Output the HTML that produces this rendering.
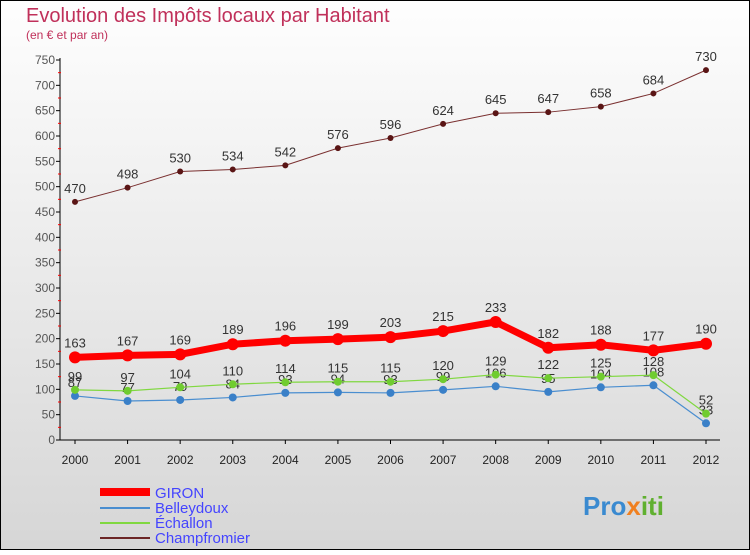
<!DOCTYPE html>
<html><head><meta charset="utf-8"><style>
body{margin:0;width:750px;height:550px;overflow:hidden;font-family:"Liberation Sans",sans-serif}
</style></head><body>
<svg width="750" height="550" xmlns="http://www.w3.org/2000/svg">
<defs><linearGradient id="bg" x1="0" y1="0" x2="0" y2="1"><stop offset="0" stop-color="#fefefe"/><stop offset="1" stop-color="#d6d6d6"/></linearGradient></defs>
<rect x="0.5" y="0.5" width="749" height="549" fill="url(#bg)" stroke="#000"/>
<text x="26" y="22" font-size="20" fill="#c0305a">Evolution des Impôts locaux par Habitant</text>
<text x="26" y="39" font-size="12" fill="#c0305a">(en € et par an)</text>
<g id="axes"></g><g id="series"></g>
<g>
<line x1="100" y1="492" x2="150" y2="492" stroke="#f00" stroke-width="8"/>
<text x="155" y="498" font-size="15" fill="#4444ff">GIRON</text>
<line x1="100" y1="508" x2="150" y2="508" stroke="#4a8ed0" stroke-width="2"/>
<text x="155" y="513" font-size="15" fill="#4444ff">Belleydoux</text>
<line x1="100" y1="523" x2="150" y2="523" stroke="#80d840" stroke-width="2"/>
<text x="155" y="528" font-size="15" fill="#4444ff">Échallon</text>
<line x1="100" y1="538" x2="150" y2="538" stroke="#6b2525" stroke-width="2"/>
<text x="155" y="543" font-size="15" fill="#4444ff">Champfromier</text>
</g>
<text x="583" y="515" font-size="26" font-weight="bold" fill="#3a8ad0">Pro<tspan fill="#f08020">x</tspan><tspan fill="#60b030">iti</tspan></text>
</svg>
<script>
const years=[2000,2001,2002,2003,2004,2005,2006,2007,2008,2009,2010,2011,2012];
const giron=[163,167,169,189,196,199,203,215,233,182,188,177,190];
const belleydoux=[87,77,79,84,93,94,93,99,106,95,104,108,33];
const echallon=[99,97,104,110,114,115,115,120,129,122,125,128,52];
const champfromier=[470,498,530,534,542,576,596,624,645,647,658,684,730];
const yTicks=[0,50,100,150,200,250,300,350,400,450,500,550,600,650,700,750];
const NS="http://www.w3.org/2000/svg";
const X=i=>75+i*(706-75)/12, Y=v=>440-v*380/750;
function mk(p,t,a){const e=document.createElementNS(NS,t);for(const k in a)e.setAttribute(k,a[k]);p.appendChild(e);return e;}
const ax=document.getElementById('axes');
let e=mk(ax,'line',{x1:60,y1:58,x2:60,y2:440,stroke:'#000'});


e=mk(ax,'line',{x1:60,y1:440,x2:720,y2:440,stroke:'#000'});


yTicks.forEach(v=>{
 mk(ax,'line',{x1:56,y1:Y(v),x2:60,y2:Y(v),stroke:'#000'});
 if(v<750)mk(ax,'line',{x1:58,y1:Y(v+25),x2:61,y2:Y(v+25),stroke:'#f00'});
 const t=mk(ax,'text',{x:55,y:Y(v)+4,'font-size':12,'text-anchor':'end',fill:'#555'});t.textContent=v;
 
 
});
years.forEach((y,i)=>{
 mk(ax,'line',{x1:X(i),y1:440,x2:X(i),y2:444,stroke:'#000'});
 const t=mk(ax,'text',{x:X(i),y:464,'font-size':12,'text-anchor':'middle',fill:'#222'});t.textContent=y;
 
 
});
const sg=document.getElementById('series');
function series(name,data,color,w,r,dot,lbl){
 const g=mk(sg,'g',{});
 
 
 const l=mk(g,'polyline',{points:data.map((v,i)=>X(i)+','+Y(v)).join(' '),fill:'none',stroke:color,'stroke-width':w});
 
 
 data.forEach((v,i)=>{
  const c=mk(g,'circle',{cx:X(i),cy:Y(v),r:r,fill:dot});
  
  
  const t=mk(g,'text',{x:X(i),y:Y(v)+lbl,'font-size':13,'text-anchor':'middle',fill:'#333'});t.textContent=v;
  
  
 });
}
series('champfromier',champfromier,'#7a3030',1,3,'#5a1515',-9);
series('belleydoux',belleydoux,'#4a8ed0',1.2,4,'#3a80c8',-9);
series('echallon',echallon,'#80d840',1.2,4,'#70cc30',-9);
series('giron',giron,'#f00',7,6,'#f00',-10);
</script>
</body></html>
